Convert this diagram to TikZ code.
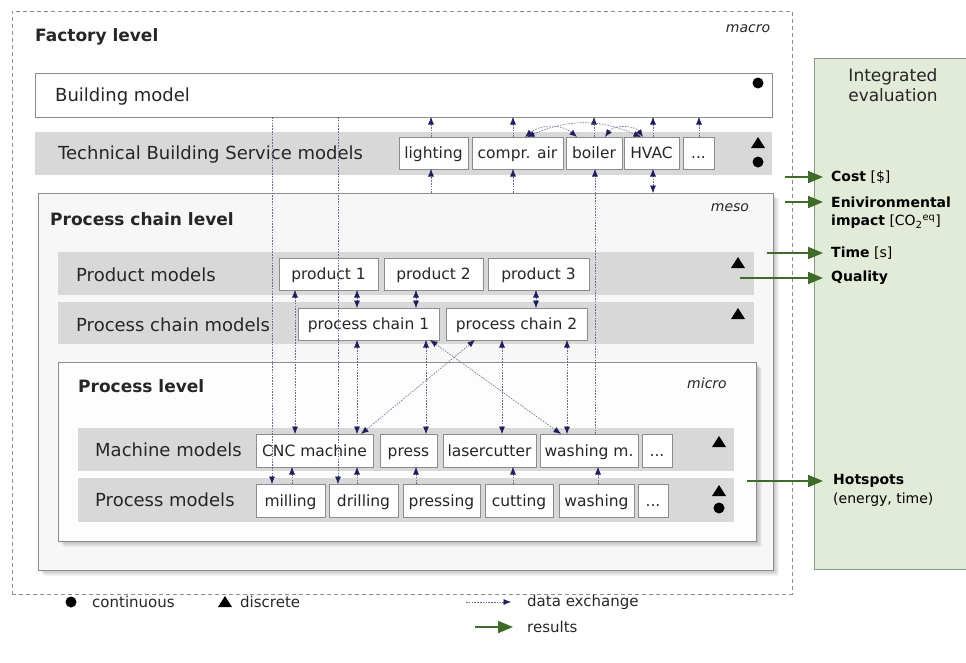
\documentclass[tikz,border=0pt]{standalone}
\usepackage{fontspec}
\setmainfont{DejaVu Sans}
\usetikzlibrary{arrows.meta}
\definecolor{bandgray}{HTML}{D8D8D8}
\definecolor{edgegray}{HTML}{8C8C8C}
\definecolor{navy}{HTML}{1E1E5C}
\definecolor{dline}{HTML}{6A6A96}
\definecolor{resgreen}{HTML}{3E6B27}
\definecolor{evalgreen}{HTML}{E2EBD8}
\definecolor{evaledge}{HTML}{8A9A80}
\definecolor{txt}{HTML}{262626}
\definecolor{mesofill}{HTML}{F7F7F7}
\definecolor{microfill}{HTML}{FDFDFD}
\newcommand\mytri[2]{\fill[black] (#1-7,#2+5) -- (#1+7,#2+5) -- (#1,#2-6) -- cycle;}
\newcommand\mycirc[2]{\fill[black] (#1,#2) circle (5.5pt);}
\newcommand\softshadow[4]{\foreach \i in {1,...,6}{\fill[black,opacity=0.045] (#1+\i,#2+\i) rectangle (#3+\i,#4+\i);}}
\tikzset{
 mbox/.style={draw=edgegray, fill=white, line width=0.7pt, inner sep=0pt, outer sep=0pt, minimum height=32pt, text height=12pt, text depth=1pt, font=\fontsize{15.5}{17}\selectfont, text=txt},
 band/.style={fill=bandgray, draw=none, inner sep=0pt, outer sep=0pt},
 frame/.style={draw=edgegray, line width=0.8pt, inner sep=0pt, outer sep=0pt},
 bandlabel/.style={anchor=west, inner sep=0pt, font=\fontsize{18}{20}\selectfont, text=txt},
 leveltitle/.style={anchor=west, inner sep=0pt, font=\fontsize{17}{19}\selectfont\bfseries, text=txt},
 scaletag/.style={inner sep=0pt, font=\fontsize{14}{16}\selectfont\itshape, text=txt},
 dtip/.tip={Latex[length=7.5pt,width=6pt,color=navy]},
 dx/.style={draw=dline, line width=0.6pt, dash pattern=on 1.6pt off 1.2pt},
 dxup/.style={dx, -dtip},
 dxboth/.style={dx, dtip-dtip},
 resarr/.style={draw=resgreen, line width=2pt, -{Triangle[length=15pt,width=12pt,color=resgreen]}, shorten >=8pt},
 reslabel/.style={anchor=west, inner sep=0pt, font=\fontsize{14}{16}\selectfont, text=black},
 legendtext/.style={anchor=west, inner sep=0pt, font=\fontsize{15}{17}\selectfont, text=txt},
}
\begin{document}
\begin{tikzpicture}[x=1pt,y=-1pt]
\useasboundingbox (0,0) rectangle (966,662);
% ---------- factory level
\node[frame, dash pattern=on 4pt off 3pt, minimum width=780pt, minimum height=583pt] (factory) at (402,302.5) {};
\node[leveltitle] (factorytitle) at (35,37) {Factory level};
\node[scaletag] (macro) at (748,29) {macro};
\node[frame, fill=white, minimum width=737pt, minimum height=44pt] (bm) at (403.5,95) {};
\node[bandlabel] (bmlabel) at (55,97) {Building model};
\mycirc{758}{83}
\node[band, minimum width=737pt, minimum height=43pt] (tbs) at (403.5,153.5) {};
\node[bandlabel] (tbslabel) at (58,155) {Technical Building Service models};
\node[mbox, minimum width=69pt] (light) at (433.5,153) {lighting};
\node[mbox, minimum width=91pt] (compr) at (517.5,153) {compr. air};
\node[mbox, minimum width=56pt] (boiler) at (594,153) {boiler};
\node[mbox, minimum width=55pt] (hvac) at (651.5,153) {HVAC};
\node[mbox, minimum width=31pt] (tbsdots) at (698.5,153) {...};
\mytri{758}{143}
\mycirc{758}{162}
% ---------- process chain level
\softshadow{38}{193}{773}{570}
\node[frame, fill=mesofill, minimum width=735pt, minimum height=377pt] (meso) at (405.5,381.5) {};
\node[leveltitle] (mesotitle) at (50,219) {Process chain level};
\node[scaletag] (mesotag) at (730,208) {meso};
\node[band, minimum width=696pt, minimum height=43pt] (prodband) at (406,273.5) {};
\node[band, minimum width=696pt, minimum height=42pt] (pcband) at (406,323) {};
\node[bandlabel] (prodlabel) at (76,275) {Product models};
\node[bandlabel] (pclabel) at (76,325) {Process chain models};
\node[mbox, minimum width=99pt] (p1) at (328.5,274) {product 1};
\node[mbox, minimum width=99pt] (p2) at (433.5,274) {product 2};
\node[mbox, minimum width=101pt] (p3) at (538.5,274) {product 3};
\node[mbox, minimum width=141pt] (pc1) at (368.5,324) {process chain 1};
\node[mbox, minimum width=141pt] (pc2) at (516.5,324) {process chain 2};
\mytri{738}{263}
\mytri{738}{314}
% ---------- process level
\softshadow{58}{362}{756}{541}
\node[frame, fill=microfill, minimum width=698pt, minimum height=179pt] (micro) at (407,451.5) {};
\node[leveltitle] (microtitle) at (78,386) {Process level};
\node[scaletag] (microtag) at (707,383) {micro};
\node[band, minimum width=656pt, minimum height=43pt] (machband) at (406,449.5) {};
\node[band, minimum width=656pt, minimum height=44pt] (procband) at (406,500) {};
\node[bandlabel] (machlabel) at (95,450) {Machine models};
\node[bandlabel] (proclabel) at (95,500) {Process models};
\node[mbox, minimum height=33pt, minimum width=117pt] (cnc) at (314.5,450.5) {CNC machine};
\node[mbox, minimum height=33pt, minimum width=57pt] (press) at (408.5,450.5) {press};
\node[mbox, minimum height=33pt, minimum width=93pt] (laser) at (489.5,450.5) {lasercutter};
\node[mbox, minimum height=33pt, minimum width=98pt] (wm) at (589,450.5) {washing m.};
\node[mbox, minimum height=33pt, minimum width=30pt] (machdots) at (657,450.5) {...};
\node[mbox, minimum height=33pt, minimum width=69pt] (mill) at (290.5,500.5) {milling};
\node[mbox, minimum height=33pt, minimum width=69pt] (drill) at (363.5,500.5) {drilling};
\node[mbox, minimum height=33pt, minimum width=77pt] (pressing) at (441.5,500.5) {pressing};
\node[mbox, minimum height=33pt, minimum width=68pt] (cut) at (519,500.5) {cutting};
\node[mbox, minimum height=33pt, minimum width=75pt] (wash) at (596.5,500.5) {washing};
\node[mbox, minimum height=33pt, minimum width=30pt] (procdots) at (653,500.5) {...};
\mytri{719}{442}
\mytri{719}{491}
\mycirc{719}{508}
% ---------- integrated evaluation
\node[draw=evaledge, fill=evalgreen, line width=0.8pt, inner sep=0pt, minimum width=154pt, minimum height=511pt] (eval) at (891,313.5) {};
\node[align=center, inner sep=0pt, font=\fontsize{17}{20}\selectfont, text=txt] (evaltitle) at (893,85) {Integrated\\evaluation};
% ---------- data exchange connectors
\draw[dxup] (431,0 |- light.north) -- (431,0 |- bm.south);
\draw[dxup] (513,0 |- compr.north) -- (513,0 |- bm.south);
\draw[dxup] (594,0 |- boiler.north) -- (594,0 |- bm.south);
\draw[dxup] (653,0 |- hvac.north) -- (653,0 |- bm.south);
\draw[dxup] (699,0 |- tbsdots.north) -- (699,0 |- bm.south);
\draw[dxup] (431,0 |- meso.north) -- (431,0 |- light.south);
\draw[dxup] (513,0 |- meso.north) -- (513,0 |- compr.south);
\draw[dxboth] (653,0 |- meso.north) -- (653,0 |- hvac.south);
\draw[dxup] (595,0 |- wm.north) -- (595,0 |- boiler.south);
\draw[dxboth] (525,0 |- compr.north) to[bend left=40] (577,0 |- boiler.north);
\draw[dxboth] (605,0 |- boiler.north) to[bend left=55] (643,0 |- hvac.north);
\draw[dxboth] (527,0 |- compr.north) to[bend left=24] (641,0 |- hvac.north);
\draw[dxup] (272,0 |- bm.south) -- (272,0 |- mill.north);
\draw[dxup] (338,0 |- bm.south) -- (338,0 |- drill.north);
\draw[dxboth] (357,0 |- p1.south) -- (357,0 |- pc1.north);
\draw[dxboth] (416,0 |- p2.south) -- (416,0 |- pc1.north);
\draw[dxboth] (536,0 |- p3.south) -- (536,0 |- pc2.north);
\draw[dxboth] (295,0 |- p1.south) -- (295,0 |- cnc.north);
\draw[dxboth] (357,0 |- pc1.south) -- (357,0 |- cnc.north);
\draw[dxboth] (426,0 |- pc1.south) -- (426,0 |- press.north);
\draw[dxboth] (502,0 |- pc2.south) -- (502,0 |- laser.north);
\draw[dxboth] (567,0 |- pc2.south) -- (567,0 |- wm.north);
\draw[dxboth] (430,0 |- pc1.south) -- (561,0 |- wm.north);
\draw[dxboth] (475,0 |- pc2.south) -- (361,0 |- cnc.north);
\draw[dxup] (292,0 |- mill.north) -- (292,0 |- cnc.south);
\draw[dxup] (357,0 |- drill.north) -- (357,0 |- cnc.south);
\draw[dxup] (416,0 |- pressing.north) -- (416,0 |- press.south);
\draw[dxup] (513,0 |- cut.north) -- (513,0 |- laser.south);
\draw[dxup] (598,0 |- wash.north) -- (598,0 |- wm.south);
% ---------- results
\coordinate (costsrc) at (785,177);
\coordinate (envsrc) at (785,202);
\coordinate (timesrc) at (767,253);
\coordinate (qualsrc) at (740,278);
\coordinate (hotsrc) at (747,481);
\node[reslabel] (cost) at (831,177) {\textbf{Cost} [\$]};
\node[reslabel] (env) at (831,202) {\textbf{Enivironmental}};
\node[reslabel] (impact) at (831,222) {\textbf{impact} [CO\textsubscript{2}\textsuperscript{eq}]};
\node[reslabel] (time) at (831,253) {\textbf{Time} [s]};
\node[reslabel] (quality) at (831,278) {\textbf{Quality}};
\node[reslabel] (hot) at (833,481) {\textbf{Hotspots}};
\node[reslabel] (hotsub) at (833,500) {(energy, time)};
\draw[resarr] (costsrc) -- (cost.west);
\draw[resarr] (envsrc) -- (env.west);
\draw[resarr] (timesrc) -- (time.west);
\draw[resarr] (qualsrc) -- (quality.west);
\draw[resarr, shorten >=10pt] (hotsrc) -- (hot.west);
% ---------- legend
\mycirc{71}{602}
\node[legendtext] (cont) at (92,602) {continuous};
\mytri{225}{602}
\node[legendtext] (disc) at (240,602) {discrete};
\coordinate (dxsrc) at (466,602);
\node[legendtext] (dxlabel) at (527,602) {data exchange};
\draw[dx, -dtip, shorten >=16pt] (dxsrc) -- (dxlabel.west);
\coordinate (ressrc) at (475,627);
\node[legendtext] (reslab) at (527,627) {results};
\draw[resarr, shorten >=14pt] (ressrc) -- (reslab.west);
\end{tikzpicture}
\end{document}
